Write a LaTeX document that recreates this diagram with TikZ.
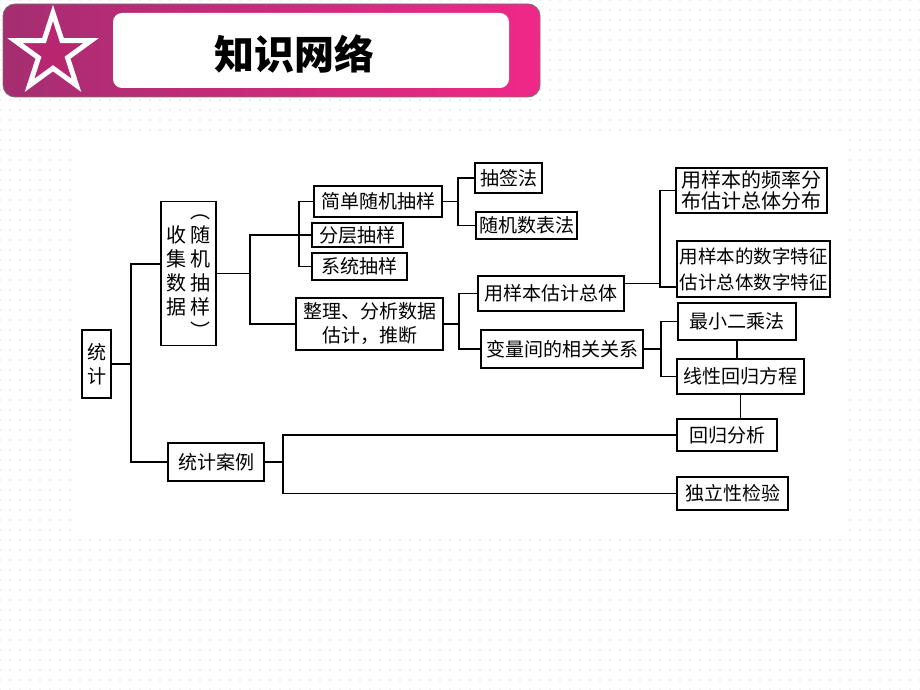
\documentclass[tikz,border=0pt]{standalone}
\usepackage{fontspec}
\newfontfamily\cjk{Noto Sans CJK SC}
\usetikzlibrary{positioning,shapes.geometric,patterns.meta}
\definecolor{rosedark}{RGB}{165,45,112}
\definecolor{rosebright}{RGB}{240,40,136}
\definecolor{starfill}{RGB}{185,38,112}

\begin{document}
\begin{tikzpicture}[x=1pt,y=-1pt,
  box/.style={draw,line width=1.3pt,inner sep=0pt,align=center,font=\cjk\fontsize{19}{24}\selectfont},
  link/.style={line width=1.2pt}]
  \useasboundingbox (0,0) rectangle (920,690);
  \fill[pattern={Dots[distance=10pt,radius=0.6pt]},pattern color=black!30] (0,0) rectangle (920,690);
  \fill[white] (75,135) rectangle (843,533);
  \shade[left color=rosedark,right color=rosebright,rounded corners=12pt] (3,4) rectangle (540,97);
  \draw[black!55,line width=0.8pt,rounded corners=12pt] (3,4) rectangle (540,97);
  \fill[white,rounded corners=9pt] (113,13) rectangle (509,88);
  \node (star) [star,star points=5,star point ratio=2.618,minimum size=80,inner sep=0pt,
    draw=white,line width=5pt,fill=starfill] at (53,53) {};
  \node (title) at (294,54) {\cjk\fontsize{40}{40}\selectfont\bfseries 知识网络};

  \node[box,minimum width=29,minimum height=68] (tj) at (96.5,364) {统\\计};
  \node[box,minimum width=55,minimum height=133,font=\cjk\fontsize{20}{24}\selectfont] (sj) at (188.5,273.5)
    {\begin{tabular}{@{}c@{}}收\\集\\数\\据\end{tabular}\hspace{4pt}\begin{tabular}{@{}c@{}}︵\\随\\机\\抽\\样\\︶\end{tabular}};
  \node[box,minimum width=128,minimum height=31] (jd) at (378,201.5) {简单随机抽样};
  \node[box,minimum width=91,minimum height=24] (fc) at (357.5,235) {分层抽样};
  \node[box,minimum width=95,minimum height=27] (xt) at (359.5,266.5) {系统抽样};
  \node[box,minimum width=147,minimum height=52] (zl) at (369.5,324) {整理、分析数据\\估计，推断};
  \node[box,minimum width=67,minimum height=30] (cq) at (508.5,178) {抽签法};
  \node[box,minimum width=101,minimum height=27] (sb) at (526.5,225.5) {随机数表法};
  \node[box,minimum width=146,minimum height=35] (gj) at (551,293.5) {用样本估计总体};
  \node[box,minimum width=162,minimum height=38] (bl) at (562,349) {变量间的相关关系};
  \node[box,minimum width=151,minimum height=45,font=\cjk\fontsize{20}{21}\selectfont] (pl) at (751.5,190.5) {用样本的频率分\\布估计总体分布};
  \node[box,minimum width=153,minimum height=56,font=\cjk\fontsize{18.5}{26}\selectfont] (sz) at (753.5,269) {用样本的数字特征\\估计总体数字特征};
  \node[box,minimum width=118,minimum height=37] (zx) at (737,321.5) {最小二乘法};
  \node[box,minimum width=127,minimum height=35] (xx) at (740.5,376.5) {线性回归方程};
  \node[box,minimum width=96,minimum height=38] (tl) at (216,462) {统计案例};
  \node[box,minimum width=100,minimum height=32] (hg) at (727,435) {回归分析};
  \node[box,minimum width=111,minimum height=33] (dl) at (732.5,493.5) {独立性检验};

  \coordinate (k1) at (131,364);
  \coordinate (k2) at (250,273.5);
  \coordinate (k3) at (299,235);
  \coordinate (k4) at (458,201.5);
  \coordinate (k5) at (459,324);
  \coordinate (k6) at (660,283.5);
  \coordinate (k7) at (661,349);
  \coordinate (k8) at (283,462);

  \draw[link] (tj.east) -- (k1);
  \draw[link] ([yshift=9.5pt]sj.west) -| (k1) |- (tl.west);
  \draw[link] (sj.east) -- (k2);
  \draw[link] (fc.west) -| (k2) |- (zl.west);
  \draw[link] (jd.west) -| (k3) |- (xt.west);
  \draw[link] (jd.east) -- (k4);
  \draw[link] (cq.west) -| (k4) |- (sb.west);
  \draw[link] (zl.east) -- (k5);
  \draw[link] (gj.west) -| (k5) |- (bl.west);
  \draw[link] ([yshift=10pt]gj.east) -- (k6);
  \draw[link] (pl.west) -| (k6) |- ([yshift=-18pt]sz.west);
  \draw[link] (bl.east) -- (k7);
  \draw[link] (zx.west) -| (k7) |- (xx.west);
  \draw[link] (zx.south) -- (zx.south |- xx.north);
  \draw[link] (xx.south) -- (xx.south |- hg.north);
  \draw[link] (tl.east) -- (k8);
  \draw[link] (hg.west) -| (k8) |- (dl.west);
\end{tikzpicture}
\end{document}
